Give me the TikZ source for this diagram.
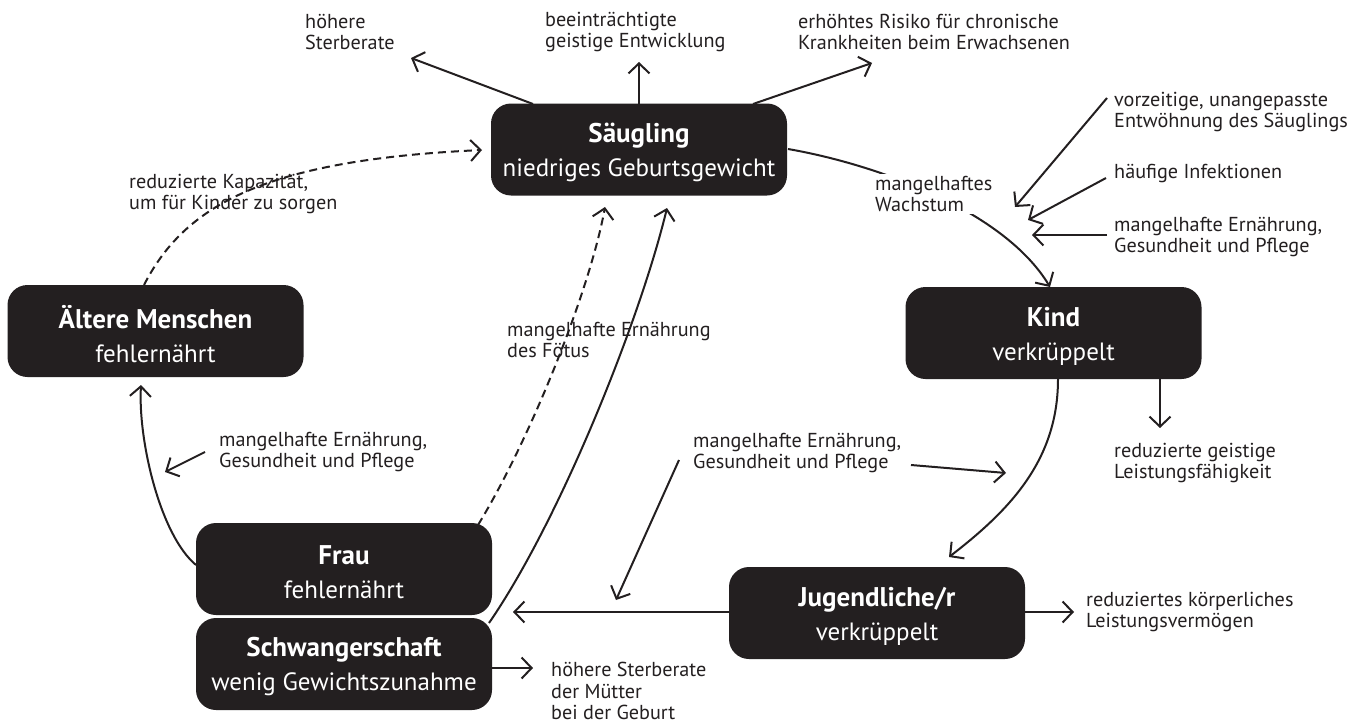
\documentclass[tikz,border=0pt]{standalone}
\usepackage{fontspec}
\setmainfont{PT Sans}
\usetikzlibrary{arrows.meta}
\definecolor{boxc}{HTML}{231F20}
\begin{document}
\begin{tikzpicture}[x=1pt,y=-1pt,
  box/.style={draw=none,fill=boxc,rounded corners=20pt,text=white,align=center,
    minimum width=296pt,minimum height=92pt,inner sep=0pt,font=\fontsize{25}{34}\selectfont},
  btxt/.style={text=white,align=center,inner sep=0pt,font=\fontsize{25}{34}\selectfont},
  lbl/.style={align=left,anchor=west,inner sep=0pt,font=\fontsize{20.2}{21.5}\selectfont,text=boxc},
  arr/.style={draw=boxc,line width=2pt,-{Straight Barb[length=10pt,width=21pt,line width=2pt]}},
  dsh/.style={dash pattern=on 8pt off 5pt}]
\useasboundingbox (0,0) rectangle (1371,725);
\newcommand{\bx}[2]{{\fontsize{27}{34}\selectfont\bfseries #1}\\#2}
% boxes
\node[box] (saeug) at (639,149.5) {};
\node[box] (alt) at (155.5,331) {};
\node[box] (frau) at (344,569) {};
\node[box] (schw) at (344,664) {};
\node[box] (kind) at (1053.5,333) {};
\node[box] (jug) at (877,613) {};
\node[btxt] (saeugt) at ([yshift=-3pt]saeug.center) {\bx{Säugling}{niedriges Geburtsgewicht}};
\node[btxt] (altt) at ([yshift=-3pt]alt.center) {\bx{Ältere Menschen}{fehlernährt}};
\node[btxt] (fraut) at ([yshift=-3pt]frau.center) {\bx{Frau}{fehlernährt}};
\node[btxt] (schwt) at ([yshift=-3pt]schw.center) {\bx{Schwangerschaft}{wenig Gewichtszunahme}};
\node[btxt] (kindt) at ([yshift=-3pt]kind.center) {\bx{Kind}{verkrüppelt}};
\node[btxt] (jugt) at ([yshift=-3pt]jug.center) {\bx{Jugendliche/r}{verkrüppelt}};
% labels
\node[lbl] (l1) at (305,32) {höhere\\Sterberate};
\node[lbl] (l2) at (545,32) {beeinträchtigte\\geistige Entwicklung};
\node[lbl] (l3) at (798,32) {erhöhtes Risiko für chronische\\Krankheiten beim Erwachsenen};
\node[lbl] (l4) at (1114,112) {vorzeitige, unangepasste\\Entwöhnung des Säuglings};
\node[lbl] (l5) at (1114,173) {häufige Infektionen};
\node[lbl] (l6) at (1114,237) {mangelhafte Ernährung,\\Gesundheit und Pflege};
\node[lbl] (l8) at (129,194) {reduzierte Kapazität,\\um für Kinder zu sorgen};
\node[lbl] (l9) at (507,340) {mangelhafte Ernährung\\des Fötus};
\node[lbl] (l10) at (219,452) {mangelhafte Ernährung,\\Gesundheit und Pflege};
\node[lbl] (l11) at (693,453) {mangelhafte Ernährung,\\Gesundheit und Pflege};
\node[lbl] (l12) at (1114,463) {reduzierte geistige\\Leistungsfähigkeit};
\node[lbl] (l13) at (1086,612) {reduziertes körperliches\\Leistungsvermögen};
\node[lbl] (l14) at (551,691) {höhere Sterberate\\der Mütter\\bei der Geburt};
% coordinates
\coordinate (s1) at (533,104); \coordinate (t1) at (411,58);
\coordinate (s2) at (639,104); \coordinate (t2) at (639,62);
\coordinate (s3) at (753,104); \coordinate (t3) at (872,63);
\coordinate (s4) at (788,149); \coordinate (t4) at (1050,287);
\coordinate (s5) at (1058,379); \coordinate (t5) at (949,557);
\coordinate (s6) at (1160,379); \coordinate (t6) at (1160,428);
\coordinate (s7) at (911,465); \coordinate (t7) at (1006,473);
\coordinate (s8) at (729,612); \coordinate (t8) at (513,612);
\coordinate (s9) at (1025,612); \coordinate (t9) at (1074,612);
\coordinate (s10) at (679,460); \coordinate (t10) at (616,600);
\coordinate (s11) at (492,668); \coordinate (t11) at (533,668);
\coordinate (s12) at (489,623); \coordinate (t12) at (667,208);
\coordinate (s13) at (478,525); \coordinate (t13) at (605,207);
\coordinate (s14) at (144,285); \coordinate (t14) at (482,150);
\coordinate (s15) at (196,565); \coordinate (t15) at (141,385);
\coordinate (s16) at (205,452); \coordinate (t16) at (165,472);
\coordinate (s17) at (1107,98); \coordinate (t17) at (1015,207);
\coordinate (s18) at (1106,178); \coordinate (t18) at (1028,220);
\coordinate (s19) at (1107,235); \coordinate (t19) at (1032,235);
% connectors
\draw[arr] (s1) -- (t1);
\draw[arr] (s2) -- (t2);
\draw[arr] (s3) -- (t3);
\draw[arr] (s4) .. controls (880,165) and (1005,212) .. (t4);
\node[lbl,fill=white,inner sep=2pt] (l7) at (873,194) {mangelhaftes\\Wachstum};
\draw[arr] (s5) .. controls (1058,460) and (1010,510) .. (t5);
\draw[arr] (s6) -- (t6);
\draw[arr] (s7) -- (t7);
\draw[arr] (s8) -- (t8);
\draw[arr] (s9) -- (t9);
\draw[arr] (s10) -- (t10);
\draw[arr] (s11) -- (t11);
\draw[arr] (s12) .. controls (560,520) and (640,320) .. (t12);
\draw[arr,dsh] (s13) .. controls (530,440) and (590,290) .. (t13);
\draw[arr,dsh] (s14) .. controls (185,205) and (265,160) .. (t14);
\draw[arr] (s15) .. controls (160,535) and (138,440) .. (t15);
\draw[arr] (s16) -- (t16);
\draw[arr] (s17) -- (t17);
\draw[arr] (s18) -- (t18);
\draw[arr] (s19) -- (t19);
\end{tikzpicture}
\end{document}
